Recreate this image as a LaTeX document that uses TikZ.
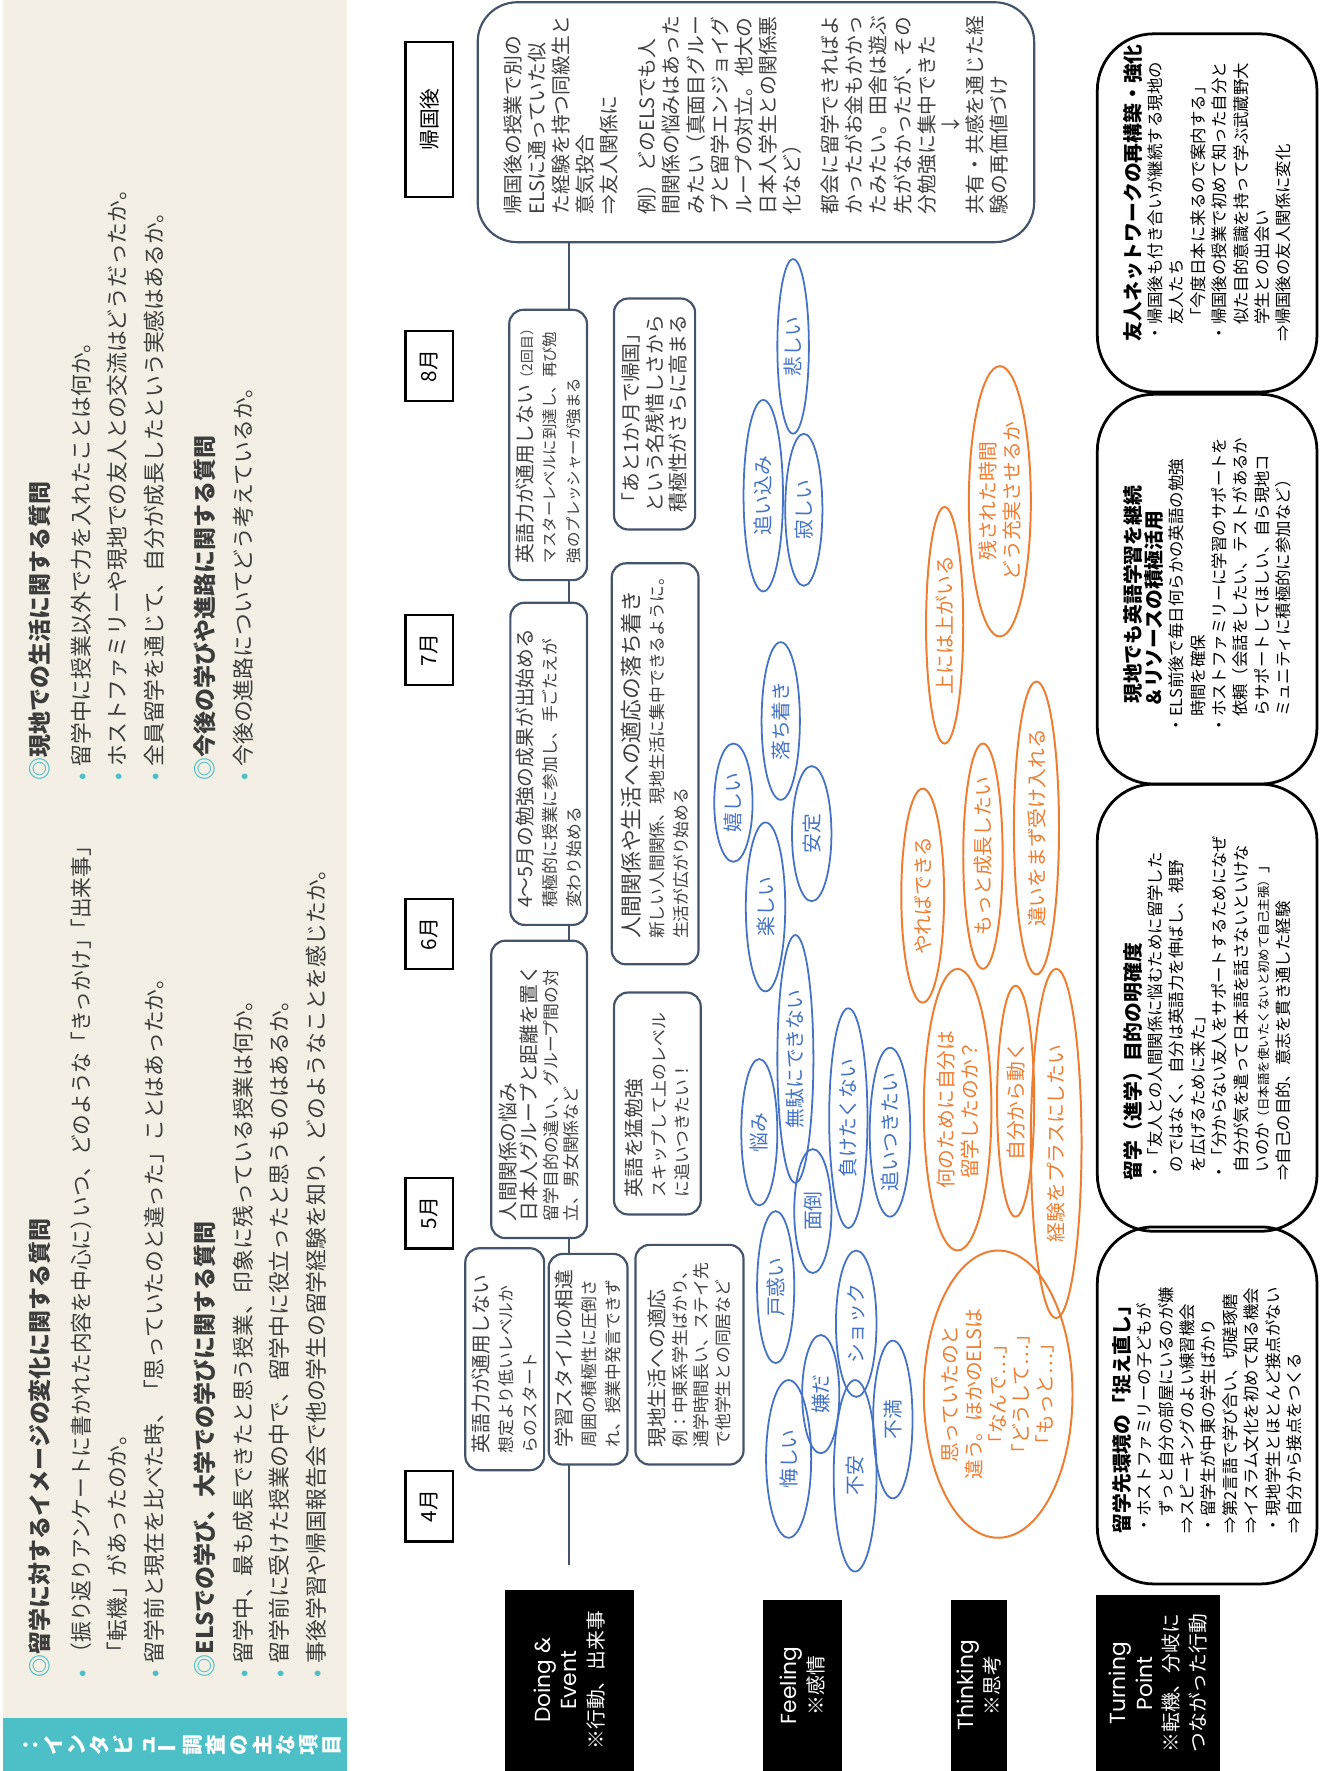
\documentclass[tikz,border=0pt]{standalone}
\usepackage{fontspec}
\usepackage{graphicx}
\setmainfont{Noto Sans CJK JP}
\newfontfamily\lblfont{Poppins}
\usetikzlibrary{positioning, shapes.geometric, backgrounds}

\definecolor{panelbg}{HTML}{F3EFE4}
\definecolor{bandteal}{HTML}{4DBFC6}
\definecolor{paneltext}{HTML}{3C3C3C}
\definecolor{boxline}{HTML}{44546A}
\definecolor{boxtext}{HTML}{404040}
\definecolor{feelblue}{HTML}{4472C4}
\definecolor{thinkorange}{HTML}{ED7D31}

\newcommand{\evtitle}{\fontsize{10}{12}\selectfont}
\newcommand{\evsmall}{\fontsize{8.5}{12}\selectfont}
\newcommand{\tptitle}{\fontsize{10}{11}\selectfont\bfseries}
\newcommand{\dotmark}{\textcolor{bandteal}{•}\hspace{0.3em}}
\newcommand{\dmark}{\textcolor{bandteal}{◎}}
\newcommand{\lbl}[1]{{\lblfont\fontsize{11}{13.5}\selectfont #1}}

\tikzset{
  panelhead/.style={anchor=west, inner sep=0pt, text=paneltext, font=\fontsize{11.6}{13}\selectfont\bfseries},
  panelline/.style={anchor=west, inner sep=0pt, text=paneltext, font=\fontsize{11}{13}\selectfont},
  rowlabel/.style={fill=black, text=white, align=center, inner sep=0pt, font=\fontsize{10}{13.5}\selectfont},
  month/.style={draw, line width=1.1pt, minimum width=1.25cm, minimum height=0.84cm, inner sep=0pt, font=\fontsize{10.5}{12}\selectfont},
  eventbox/.style={draw=boxline, line width=1.1pt, rounded corners=0.25cm, fill=white, text=boxtext, align=left, inner xsep=0.3cm, inner ysep=0pt, font=\evsmall},
  feel/.style={ellipse, draw=feelblue, line width=0.9pt, text=feelblue, inner sep=0pt, font=\fontsize{10}{12}\selectfont},
  think/.style={ellipse, draw=thinkorange, line width=1pt, text=thinkorange, inner sep=0pt, align=center, font=\fontsize{10}{12}\selectfont},
  turnbox/.style={draw, line width=1.4pt, rounded corners=1cm, align=left, inner xsep=0.9cm, inner ysep=0pt, font=\fontsize{8.3}{10.8}\selectfont},
}

\begin{document}
\begin{tikzpicture}
\begin{scope}[rotate=90, transform shape, x=0.02cm, y=0.02cm]
\useasboundingbox (0,-1172) rectangle (1572,0);
%% question panel
\fill[panelbg] (47,-3) rectangle (1572,-308);
\fill[bandteal] (0,-3) rectangle (47,-308);
\node[white, align=center, inner sep=0pt, font=\fontsize{10.5}{11.7}\selectfont\bfseries] (bandtitle) at (23,-162) {：\\イ\\ン\\タ\\ビ\\ュ\\\rotatebox{90}{ー}\\調\\査\\の\\主\\な\\項\\目};
\node[panelhead] (q1head) at (83,-35) {\dmark 留学に対するイメージの変化に関する質問};
\node[panelline] (q1a) at (83,-72) {\dotmark\scalebox{0.95}[1]{（振り返りアンケートに書かれた内容を中心に）\hspace{-0.4em}いつ、どのような「きっかけ」\hspace{-0.5em}「出来事」}};
\node[panelline] (q1b) at (83,-104) {\hphantom{\dotmark}「転機」があったのか。};
\node[panelline] (q1c) at (83,-137) {\dotmark 留学前と現在を比べた時、「思っていたのと違った」ことはあったか。};
\node[panelhead] (q2head) at (83,-182) {\dmark ELSでの学び、大学での学びに関する質問};
\node[panelline] (q2a) at (83,-216) {\dotmark 留学中、最も成長できたと思う授業、印象に残っている授業は何か。};
\node[panelline] (q2b) at (83,-248) {\dotmark 留学前に受けた授業の中で、留学中に役立ったと思うものはあるか。};
\node[panelline] (q2c) at (83,-281) {\dotmark 事後学習や帰国報告会で他の学生の留学経験を知り、どのようなことを感じたか。};
\node[panelhead] (q3head) at (879,-35) {\dmark 現地での生活に関する質問};
\node[panelline] (q3a) at (879,-72) {\dotmark 留学中に授業以外で力を入れたことは何か。};
\node[panelline] (q3b) at (879,-104) {\dotmark ホストファミリーや現地での友人との交流はどうだったか。};
\node[panelline] (q3c) at (879,-137) {\dotmark 全員留学を通じて、自分が成長したという実感はあるか。};
\node[panelhead] (q4head) at (879,-182) {\dmark 今後の学びや進路に関する質問};
\node[panelline] (q4a) at (879,-216) {\dotmark 今後の進路についてどう考えているか。};
%% months
\node[month] (apr) at (235,-381) {4月};
\node[month] (may) at (495,-381) {5月};
\node[month] (jun) at (743,-381) {6月};
\node[month] (jul) at (995,-381) {7月};
\node[month] (aug) at (1247,-381) {8月};
\node[month, minimum width=2.76cm] (back) at (1466,-381) {帰国後};
%% row labels
\node[rowlabel, minimum width=3.22cm, minimum height=2.3cm] (doinglbl) at (80.5,-505.5) {\lbl{Doing \&}\\\lbl{Event}\\※行動、出来事};
\node[rowlabel, minimum width=3.04cm, minimum height=1.4cm] (feellbl) at (76,-712) {\lbl{Feeling}\\※感情};
\node[rowlabel, minimum width=3.04cm, minimum height=1.0cm] (thinklbl) at (76,-869) {\lbl{Thinking}\\※思考};
\node[rowlabel, minimum width=3.12cm, minimum height=2.2cm] (turnlbl) at (78,-1028) {\lbl{Turning}\\\lbl{Point}\\※転機、分岐に\\つながった行動};
%% doing & event
\coordinate (tlstart) at (183,-505);
\node[eventbox, text width=3.34cm, minimum height=1.4cm] (engfail) at (365.5,-448) {{\evtitle 英語力が通用しない}\\想定より低いレベルか\\らのスタート};
\node[eventbox, text width=3.14cm, minimum height=1.4cm] (stylegap) at (365.5,-522) {{\evtitle 学習スタイルの相違}\\周囲の積極性に圧倒さ\\れ、授業中発言できず};
\node[eventbox, text width=3.3cm, minimum height=1.92cm, font=\fontsize{8.5}{11}\selectfont] (lifeadapt) at (369.5,-612) {{\evtitle 現地生活への適応}\\例：中東系学生ばかり、\\通学時間長い、ステイ先\\で他学生との同居など};
\node[eventbox, text width=4.68cm, minimum height=1.7cm, font=\fontsize{8.5}{10.5}\selectfont] (relworry) at (605,-478.5) {{\evtitle 人間関係の悩み}\\{\evtitle 日本人グループと距離を置く}\\留学目的の違い、グループ間の対\\立、男女関係など};
\node[eventbox, text width=3.34cm, minimum height=1.54cm] (engstudy) at (592.5,-583.5) {{\evtitle 英語を猛勉強}\\スキップして上のレベル\\に追いつきたい！};
\node[eventbox, text width=5.12cm, minimum height=1.36cm] (studypay) at (894,-487) {{\evtitle 4〜5月の勉強の成果が出始める}\\積極的に授業に参加し、手ごたえが\\変わり始める};
\node[eventbox, inner xsep=0.45cm, text width=6.22cm, minimum height=1.54cm] (settle) at (894,-581.5) {{\fontsize{11}{12}\selectfont 人間関係や生活への適応の落ち着き}\\新しい人間関係、現地生活に集中できるように。\\生活が広がり始める};
\node[eventbox, text width=4.2cm, minimum height=1.38cm, font=\fontsize{7.8}{12}\selectfont] (engfailtwo) at (1177,-486.5) {{\evtitle 英語力が通用しない}{\fontsize{7}{12}\selectfont （2回目）}\\マスターレベルに到達し、再び勉\\強のプレッシャーが強まる};
\node[eventbox, text width=3.5cm, minimum height=1.44cm, font=\evtitle] (lastmonth) at (1204.5,-581) {「あと1か月で帰国」\\という名残惜しさから\\積極性がさらに高まる};
\node[eventbox, rounded corners=0.7cm, inner xsep=0.5cm, text width=3.26cm, minimum height=9.88cm, font=\fontsize{10}{12.2}\selectfont] (afterbox) at (1463.5,-671) {帰国後の授業で別の\\ELSに通っていた似\\た経験を持つ同級生と\\意気投合\\⇒友人関係に\\[7pt]例）\,どのELSでも人\\間関係の悩みはあった\\みたい（真面目グルー\\プと留学エンジョイグ\\ループの対立。他大の\\日本人学生との関係悪\\化など）\\[7pt]都会に留学できればよ\\かったがお金もかかっ\\たみたい。田舎は遊ぶ\\先がなかったが、その\\分勉強に集中できた\\\hspace*{4em}↓\\共有・共感を通じた経\\験の再価値づけ};
%% feeling
\node[feel, minimum width=2.8cm, minimum height=0.8cm] (kuyashii) at (277,-700) {悔しい};
\node[feel, minimum width=2.1cm, minimum height=0.66cm] (iyada) at (334.5,-728.5) {嫌だ};
\node[feel, minimum width=3.4cm, minimum height=0.76cm] (fuan) at (262,-759) {不安};
\node[feel, minimum width=2.6cm, minimum height=0.72cm] (shock) at (397,-760) {ショック};
\node[feel, minimum width=2.8cm, minimum height=0.7cm] (fuman) at (312,-792.5) {不満};
\node[feel, minimum width=2.7cm, minimum height=0.66cm] (tomadoi) at (429.5,-688.5) {戸惑い};
\node[feel, minimum width=2.2cm, minimum height=0.66cm] (mendo) at (497,-721.5) {面倒};
\node[feel, minimum width=2.6cm, minimum height=0.64cm] (nayami) at (567,-674) {悩み};
\node[feel, minimum width=4.4cm, minimum height=0.64cm] (mudani) at (632,-706) {無駄にできない};
\node[feel, minimum width=3.9cm, minimum height=0.68cm] (maketaku) at (579.5,-753) {負けたくない};
\node[feel, minimum width=3.0cm, minimum height=0.72cm] (oitsuki) at (567,-790) {追いつきたい};
\node[feel, minimum width=3.0cm, minimum height=0.7cm] (tanoshii) at (767,-679.5) {楽しい};
\node[feel, minimum width=2.1cm, minimum height=0.68cm] (ureshii) at (859.5,-651) {嬉しい};
\node[feel, minimum width=2.8cm, minimum height=0.68cm] (ochitsuki) at (932,-693) {落ち着き};
\node[feel, minimum width=2.4cm, minimum height=0.7cm] (antei) at (832,-720.5) {安定};
\node[feel, minimum width=3.4cm, minimum height=0.7cm] (oikomi) at (1132,-677.5) {追い込み};
\node[feel, minimum width=2.7cm, minimum height=0.66cm] (sabishii) at (1119.5,-713.5) {寂しい};
\node[feel, minimum width=3.1cm, minimum height=0.56cm] (kanashii) at (1264.5,-704) {悲しい};
%% thinking
\node[think, inner sep=-0.17cm, minimum width=5.1cm, minimum height=2.64cm] (omotte) at (334.5,-886) {思っていたのと\\違う。ほかのELSは\\「なんで…」\\「どうして…」\\「もっと…」};
\node[think, minimum width=5.0cm, minimum height=1.2cm] (naninotame) at (587,-850) {何のために自分は\\留学したのか？};
\node[think, minimum width=4.1cm, minimum height=0.66cm] (jibunkara) at (594.5,-901.5) {自分から動く};
\node[think, minimum width=6.2cm, minimum height=0.9cm] (keiken) at (557,-937.5) {経験をプラスにしたい};
\node[think, minimum width=3.8cm, minimum height=0.76cm] (yareba) at (777,-819) {やればできる};
\node[think, minimum width=4.0cm, minimum height=0.7cm] (motto) at (812,-872.5) {もっと成長したい};
\node[think, minimum width=5.2cm, minimum height=0.8cm] (chigai) at (837,-920) {違いをまず受け入れる};
\node[think, minimum width=4.2cm, minimum height=0.66cm] (ueniwa) at (1017,-838.5) {上には上がいる};
\node[think, minimum width=4.8cm, minimum height=1.1cm] (nokori) at (1127,-887.5) {残された時間\\どう充実させるか};
%% turning point
\node[turnbox, text width=4.54cm, minimum height=3.9cm] (tpone) at (324.5,-1071.5) {{\tptitle 留学先環境の「捉え直し」}\\・ホストファミリーの子どもが\\\hspace*{1em}ずっと自分の部屋にいるのが嫌\\⇒スピーキングのよい練習機会\\・留学生が中東の学生ばかり\\⇒第2言語で学び合い、切磋琢磨\\⇒イスラム文化を初めて知る機会\\・現地学生とほとんど接点がない\\⇒自分から接点をつくる};
\node[turnbox, text width=6.14cm, minimum height=3.9cm] (tptwo) at (677.5,-1071.5) {{\tptitle 留学（進学）目的の明確度}\\・「友人との人間関係に悩むために留学した\\\hspace*{0.5em}のではなく、自分は英語力を伸ばし、視野\\\hspace*{0.5em}を広げるために来た」\\・「分からない友人をサポートするためになぜ\\\hspace*{0.5em}自分が気を遣って日本語を話さないといけな\\\hspace*{0.5em}いのか{\fontsize{6.3}{10.8}\selectfont（日本語を使いたくないと初めて自己主張）}」\\⇒自己の目的、意志を貫き通した経験};
\node[turnbox, text width=5.12cm, minimum height=3.9cm] (tpthree) at (1049,-1071.5) {{\tptitle\hspace*{1.5em}現地でも英語学習を継続}\\{\tptitle\hspace*{1.3em}＆リソースの積極活用}\\・ELS前後で毎日何らかの英語の勉強\\\hspace*{1em}時間を確保\\・ホストファミリーに学習のサポートを\\\hspace*{1em}依頼（会話をしたい、テストがあるか\\\hspace*{1em}らサポートしてほしい、自ら現地コ\\\hspace*{1em}ミュニティに積極的に参加など）};
\node[turnbox, text width=4.56cm, minimum height=3.9cm] (tpfour) at (1383,-1071.5) {{\tptitle 友人ネットワークの再構築・強化}\\・帰国後も付き合いが継続する現地の\\\hspace*{1em}友人たち\\\hspace*{1em}「今度日本に来るので案内する」\\・帰国後の授業で初めて知った自分と\\\hspace*{1em}似た目的意識を持って学ぶ武蔵野大\\\hspace*{1em}学生との出会い\\⇒帰国後の友人関係に変化};
%% time line behind the boxes
\begin{pgfonlayer}{background}
  \draw[boxline, line width=1pt] (tlstart) -- (afterbox.west |- tlstart);
\end{pgfonlayer}
\end{scope}
\end{tikzpicture}
\end{document}
